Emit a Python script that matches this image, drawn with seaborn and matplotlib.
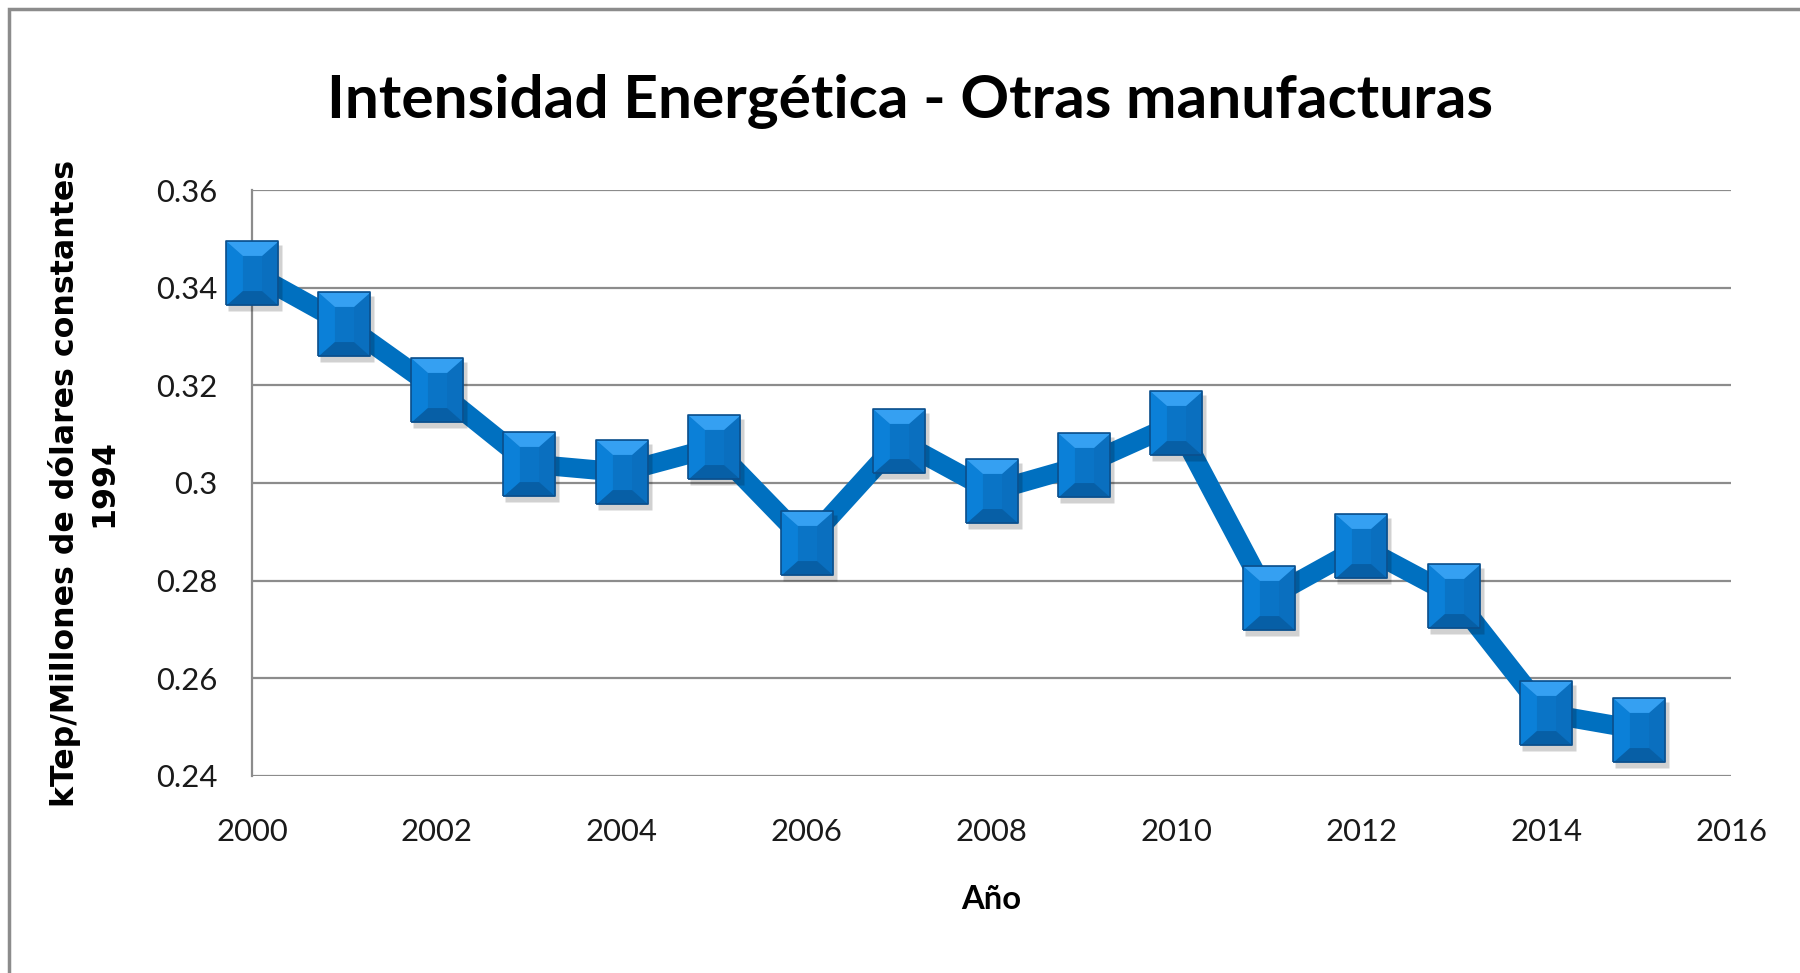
import numpy as np
import pandas as pd
import matplotlib
matplotlib.use("Agg")
import matplotlib.pyplot as plt
import matplotlib.transforms as mtransforms
from matplotlib.path import Path
from matplotlib.patches import Rectangle
import seaborn as sns

years = [2000, 2001, 2002, 2003, 2004, 2005, 2006, 2007,
         2008, 2009, 2010, 2011, 2012, 2013, 2014, 2015]
intensidad = [0.3431, 0.3326, 0.3191, 0.3039, 0.3022, 0.3073, 0.2878, 0.3086,
              0.2983, 0.3037, 0.3122, 0.2765, 0.2870, 0.2769, 0.2528, 0.2495]
y_ticks = [0.24, 0.26, 0.28, 0.30, 0.32, 0.34, 0.36]
y_tick_labels = ["0.24", "0.26", "0.28", "0.3", "0.32", "0.34", "0.36"]
x_ticks = [2000, 2002, 2004, 2006, 2008, 2010, 2012, 2014, 2016]
x_tick_labels = [str(v) for v in x_ticks]

title = "Intensidad Energética - Otras manufacturas"
xlabel = "Año"
ylabel = "kTep/Millones de dólares constantes\n1994"

df = pd.DataFrame({"year": years, "value": intensidad})

sns.set_style("white")
plt.rcParams["font.family"] = ["Lato", "DejaVu Sans"]
plt.rcParams["text.color"] = "black"
plt.rcParams["axes.labelcolor"] = "black"

fig = plt.figure(figsize=(18, 9.73), dpi=100)
ax = fig.add_axes([0.14, 0.2025, 0.8217, 0.6022])
renderer = fig.canvas.get_renderer()


def fit_width(txt, target_px):
    bb = txt.get_window_extent(renderer=renderer)
    txt.set_fontsize(txt.get_fontsize() * target_px / bb.width)


line_color = "#0070c0"
sns.lineplot(data=df, x="year", y="value", ax=ax, color=line_color,
             linewidth=14, zorder=3, solid_joinstyle="miter")

# marker geometry (normalized: half-height 1, half-width 0.81)
W, H = 0.81, 1.0
iw, ih = 0.30, 0.55
outer = [(-W, -H), (W, -H), (W, H), (-W, H), (-W, -H)]
top = [(-W, H), (W, H), (iw, ih), (-iw, ih), (-W, H)]
bottom = [(-W, -H), (W, -H), (iw, -ih), (-iw, -ih), (-W, -H)]
left = [(-W, H), (-iw, ih), (-iw, -ih), (-W, -H), (-W, H), (W, H)]
right = [(W, H), (iw, ih), (iw, -ih), (W, -H), (W, H), (-W, H)]
ms = 46

shadow_tr = mtransforms.offset_copy(ax.transData, fig=fig, x=3, y=-5, units="dots")
layers = [
    (Path(outer), "#0a74c6", "none", 0, 5),
    (Path(left), "#0b80d8", "none", 0, 6),
    (Path(right), "#0a6fbf", "none", 0, 6),
    (Path(top), "#35a0f2", "none", 0, 6),
    (Path(bottom), "#075fa6", "none", 0, 6),
    (Path(outer), "none", "#0b4f8c", 1.2, 7),
]
ax.plot(years, intensidad, linestyle="none", marker=Path(outer), markersize=ms + 2,
        markerfacecolor="#000000", markeredgecolor="none", alpha=0.18,
        transform=shadow_tr, zorder=4, clip_on=False)
for mk, fc, ec, ew, z in layers:
    ax.plot(years, intensidad, linestyle="none", marker=mk, markersize=ms,
            markerfacecolor=fc, markeredgecolor=ec, markeredgewidth=ew,
            zorder=z, clip_on=False)

ax.set_xlim(2000, 2016)
ax.set_ylim(0.24, 0.36)
ax.set_xticks(x_ticks)
ax.set_xticklabels(x_tick_labels)
ax.set_yticks(y_ticks)
ax.set_yticklabels(y_tick_labels)
ax.tick_params(axis="both", length=0, labelsize=28, colors="#1a1a1a")
ax.tick_params(axis="y", pad=25)
ax.tick_params(axis="x", pad=30)

ax.grid(axis="y", color="#8c8c8c", linewidth=1.6)
ax.grid(axis="x", visible=False)
for side in ["top", "right", "bottom"]:
    ax.spines[side].set_visible(False)
ax.spines["left"].set_color("#8c8c8c")
ax.spines["left"].set_linewidth(1.6)
ax.set_axisbelow(True)

xl = ax.set_xlabel(xlabel, fontsize=27, fontweight="bold", labelpad=28, color="black")
yl = ax.set_ylabel(ylabel, fontsize=20, fontweight="bold", family=["DejaVu Sans"],
                   labelpad=26, linespacing=1.3, color="black")
tt = fig.text(0.5055, 1 - 118 / 973, title, ha="center", va="baseline", fontsize=44,
              fontweight="bold", color="black")

fig.canvas.draw()
fit_width(tt, 1165)
fit_width(xl, 60)
# y label: longest line spans ~649 px
tmp = fig.text(0, 0, ylabel.split("\n")[0], fontsize=20, fontweight="bold",
               family=["DejaVu Sans"])
ybb = tmp.get_window_extent(renderer=renderer)
yl.set_fontsize(20 * 649 / ybb.width)
tmp.remove()
lbl = ax.get_xticklabels()[0]
bb = lbl.get_window_extent(renderer=renderer)
tick_fs = 28 * 72 / bb.width
ax.tick_params(axis="both", labelsize=tick_fs)

# outer chart border
fig.patches.append(Rectangle((9 / 1800, -0.1), 1.2, 1 - 9 / 973 + 0.1,
                             transform=fig.transFigure, fill=False,
                             edgecolor="#8c8c8c", linewidth=2.5))

fig.savefig("out.png", dpi=100)
